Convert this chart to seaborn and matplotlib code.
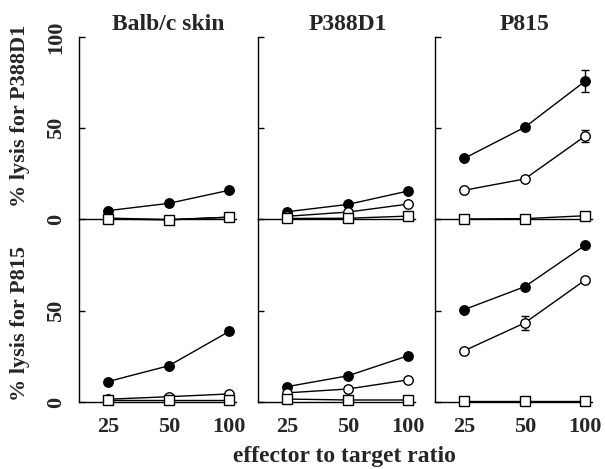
import numpy as np
import pandas as pd
import seaborn as sns
import matplotlib
matplotlib.use("Agg")
import matplotlib.pyplot as plt
from matplotlib.ticker import FixedLocator, NullLocator, FixedFormatter

# effector to target ratios
ratio = [25, 50, 100]
targets = ["Balb/c skin", "P388D1", "P815"]

# % lysis for P388D1 (top row), one list per stimulator column
top_filled = [[4.6, 8.6, 15.8], [4.0, 8.0, 15.4], [33.3, 50.4, 75.8]]
top_open = [[0.5, -0.3, 1.0], [1.5, 3.8, 8.2], [15.8, 22.0, 45.6]]
top_square = [[0.0, -0.5, 1.0], [0.3, 0.4, 1.6], [0.0, 0.2, 1.8]]
top_filled_err = [[0, 0, 0], [0, 0, 0], [0, 0, 6.0]]
top_open_err = [[0, 0, 0], [0, 0, 0], [0, 0, 3.5]]

# % lysis for P815 (bottom row)
bot_filled = [[11.2, 19.8, 38.6], [8.4, 14.3, 25.3], [50.5, 63.0, 85.7]]
bot_open = [[1.5, 2.9, 4.4], [5.0, 7.1, 12.1], [28.0, 43.2, 66.7]]
bot_square = [[1.1, 1.1, 1.1], [1.6, 1.1, 1.1], [0.7, 0.7, 0.7]]
bot_filled_err = [[0, 0, 0], [0, 0, 0], [0, 0, 0]]
bot_open_err = [[0, 0, 0], [0, 0, 0], [0, 4.0, 0]]

sns.set_theme(style="ticks")
plt.rcParams["font.family"] = ["Liberation Serif", "DejaVu Serif"]
plt.rcParams["font.weight"] = "bold"

W, H = 605, 469
fig = plt.figure(figsize=(W / 100, H / 100), dpi=100)

lefts = [79, 258, 435]
pw = 157
rows = [(37, 219), (219, 402)]

def fx(px):
    return px / W

def fy(py):
    return 1 - py / H

def draw_series(ax, y, err, marker, face, z):
    df = pd.DataFrame({"ratio": ratio, "lysis": y})
    sns.lineplot(data=df, x="ratio", y="lysis", ax=ax, color="black", lw=1,
                 marker=marker, markersize=6.8, markerfacecolor=face,
                 markeredgecolor="black", markeredgewidth=1, clip_on=False,
                 zorder=z, errorbar=None)
    if any(e > 0 for e in err):
        idx = [i for i, e in enumerate(err) if e > 0]
        ax.errorbar([ratio[i] for i in idx], [y[i] for i in idx],
                    yerr=[err[i] for i in idx], fmt="none", ecolor="black",
                    elinewidth=1, capsize=3, capthick=1, zorder=z - 0.5,
                    clip_on=False)

for r, (ytop, ybot) in enumerate(rows):
    for c in range(3):
        ax = fig.add_axes([fx(lefts[c]), fy(ybot), fx(pw), (ybot - ytop) / H])
        if r == 0:
            f, o, s = top_filled[c], top_open[c], top_square[c]
            fe, oe = top_filled_err[c], top_open_err[c]
        else:
            f, o, s = bot_filled[c], bot_open[c], bot_square[c]
            fe, oe = bot_filled_err[c], bot_open_err[c]
        draw_series(ax, f, fe, "o", "black", 3)
        draw_series(ax, o, oe, "o", "white", 4)
        draw_series(ax, s, [0, 0, 0], "s", "white", 5)

        ax.set_xscale("log", base=2)
        ax.set_xlim(17.9, 108)
        ax.set_ylim(0, 100)
        for sp in ["top", "right"]:
            ax.spines[sp].set_visible(False)
        for sp in ["left", "bottom"]:
            ax.spines[sp].set_linewidth(1)
            ax.spines[sp].set_color("black")
        ax.set_xlabel("")
        ax.set_ylabel("")
        ax.xaxis.set_major_locator(FixedLocator(ratio))
        ax.xaxis.set_minor_locator(NullLocator())
        ax.tick_params(axis="x", length=0, pad=11, labelsize=16)
        if r == 0:
            ax.set_xticklabels([])
            yt = [0, 50, 100]
        else:
            ax.xaxis.set_major_formatter(FixedFormatter([str(v) for v in ratio]))
            yt = [0, 50]
        ax.yaxis.set_major_locator(FixedLocator(yt))
        ax.tick_params(axis="y", direction="in", length=4, width=1,
                       color="black", pad=9, labelsize=16, labelrotation=90)
        if c == 0:
            ax.set_yticklabels([str(v) for v in yt], va="center", fontweight="bold")
        else:
            ax.set_yticklabels([])
        for lab in ax.get_xticklabels():
            lab.set_fontweight("bold")
        ax.set_facecolor("none")
        if r == 0:
            # title centred over the middle ratio, a bit above the panel
            ax.text(50, 1 + (37 - 24) / (ybot - ytop), targets[c],
                    transform=ax.get_xaxis_transform(),
                    ha="center", va="center", fontsize=17, fontweight="bold")

fig.text(fx(20), fy(116), "% lysis for P388D1", rotation=90, ha="center",
         va="center", fontsize=16, fontweight="bold")
fig.text(fx(20), fy(323), "% lysis for P815", rotation=90, ha="center",
         va="center", fontsize=16, fontweight="bold")
fig.text(fx(344), fy(456), "effector to target ratio", ha="center",
         va="center", fontsize=17, fontweight="bold")

fig.savefig("out.png", dpi=100)
